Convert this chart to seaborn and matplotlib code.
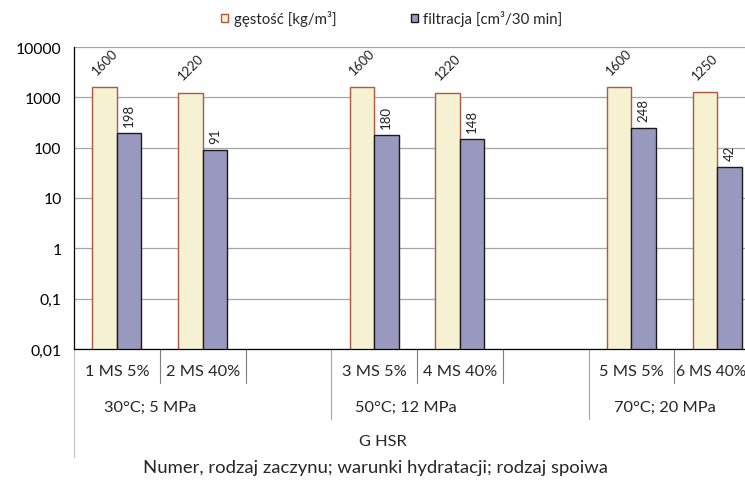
import matplotlib
matplotlib.use("Agg")
import matplotlib.pyplot as plt
from matplotlib.lines import Line2D
from matplotlib.ticker import FixedLocator, FuncFormatter, NullLocator
import seaborn as sns
import pandas as pd

# ---- data ----
categories = ['1 MS 5%', '2 MS 40%', '3 MS 5%', '4 MS 40%', '5 MS 5%', '6 MS 40%']
gestosc = [1600, 1220, 1600, 1220, 1600, 1250]
filtracja = [198, 91, 180, 148, 248, 42]
conditions = ['30°C; 5 MPa', '50°C; 12 MPa', '70°C; 20 MPa']
binder = 'G HSR'
series_names = ['gęstość [kg/m³]', 'filtracja [cm³/30 min]']
y_ticks = [0.01, 0.1, 1, 10, 100, 1000, 10000]
x_title = 'Numer, rodzaj zaczynu; warunki hydratacji; rodzaj spoiwa'

# axis order with empty slots between the condition groups
order = ['1 MS 5%', '2 MS 40%', 'gap1', '3 MS 5%', '4 MS 40%', 'gap2', '5 MS 5%', '6 MS 40%']

df = pd.DataFrame({
    'kat': categories * 2,
    'seria': [series_names[0]] * len(categories) + [series_names[1]] * len(categories),
    'wartosc': gestosc + filtracja,
})

sns.set_style('white')
plt.rcParams['font.family'] = ['Lato', 'DejaVu Sans']

fig = plt.figure(figsize=(7.45, 4.85), dpi=100)
W, H = 745, 485
x0, x1 = 74, 760
y0, y1 = 48, 350
ax = fig.add_axes([x0 / W, 1 - y1 / H, (x1 - x0) / W, (y1 - y0) / H])

fills = ['#FBF6CE', '#9393C6']
edges = ['#B5553F', '#1A1A1A']
sns.barplot(data=df, x='kat', y='wartosc', hue='seria', order=order,
            hue_order=series_names, palette=fills, width=0.57,
            linewidth=1.0, ax=ax, legend=True)

ax.set_yscale('log')
ax.set_ylim(0.01, 10000)
ax.set_xlim(-0.5, len(order) - 0.5)

for cont, ec in zip(ax.containers, edges):
    for bar in cont:
        bar.set_edgecolor(ec)

# data labels
ax.bar_label(ax.containers[0], labels=[str(v) for v in gestosc], rotation=45,
             padding=8, fontsize=9.5, color='#222222')
ax.bar_label(ax.containers[1], labels=[str(v) for v in filtracja], rotation=90,
             padding=5, fontsize=9.5, color='#222222')

# y axis formatting
ax.yaxis.set_major_locator(FixedLocator(y_ticks))
ax.yaxis.set_minor_locator(NullLocator())
ax.yaxis.set_major_formatter(FuncFormatter(lambda v, p: f'{v:g}'.replace('.', ',')))
ax.tick_params(axis='y', direction='out', length=5, width=0.8, color='#808080',
               labelsize=11.3, pad=4, labelcolor='black')
ax.grid(axis='y', color='#A6A6A6', linewidth=0.9)
ax.set_axisbelow(True)

# spines
for s in ['top', 'right']:
    ax.spines[s].set_visible(False)
ax.spines['left'].set_color('black')
ax.spines['left'].set_linewidth(0.9)
ax.spines['bottom'].set_color('black')
ax.spines['bottom'].set_linewidth(0.9)

# x axis: custom multi-level labels
ax.set_xticks([])
ax.set_xlabel('')
ax.set_ylabel('')
trans = ax.get_xaxis_transform()
ph = y1 - y0


def fy(py):
    return (y1 - py) / ph


LBL = 11.8
for i, lab in enumerate(order):
    if lab.startswith('gap'):
        continue
    if i == len(order) - 1:
        # last category sits at the figure's right edge
        fig.text(676 / W, 1 - 372 / H, lab, ha='left', va='center', fontsize=11.2)
    else:
        ax.text(i, fy(372), lab, transform=trans, ha='center', va='center',
                fontsize=LBL, clip_on=False)

# separators
for b in [0.5, 1.5, 3.5, 4.5, 6.5]:
    ax.add_line(Line2D([b, b], [0, fy(384)], transform=trans, color='#7F7F7F',
                       linewidth=0.8, clip_on=False))
for b in [2.5, 5.5]:
    ax.add_line(Line2D([b, b], [0, fy(420)], transform=trans, color='#A6A6A6',
                       linewidth=0.8, clip_on=False))
ax.add_line(Line2D([-0.5, -0.5], [0, fy(458)], transform=trans, color='#C0C0C0',
                   linewidth=0.8, clip_on=False))

for xc, lab in zip([0.39, 3.37, 6.39], conditions):
    ax.text(xc, fy(408), lab, transform=trans, ha='center', va='center',
            fontsize=LBL, clip_on=False)
ax.text(3.1, fy(442), binder, transform=trans, ha='center', va='center',
        fontsize=LBL, clip_on=False)

fig.text(375 / W, 1 - 468 / H, x_title, ha='center', va='center', fontsize=13.3)

# legend
sns.move_legend(ax, 'center', bbox_to_anchor=(392 / W, 1 - 19 / H),
                bbox_transform=fig.transFigure, ncol=2, frameon=False, title=None,
                fontsize=10.8, handlelength=0.47, handleheight=0.47,
                handletextpad=0.35, columnspacing=5.0)
leg = ax.get_legend()
for h, ec in zip(leg.legend_handles, edges):
    h.set_edgecolor(ec)
    h.set_linewidth(1.0)

fig.savefig('out.png', dpi=100)
